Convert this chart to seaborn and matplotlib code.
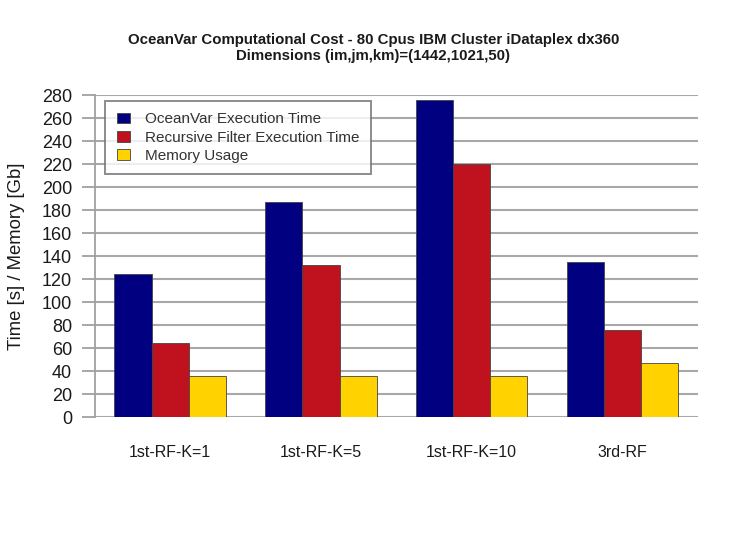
import matplotlib
matplotlib.use("Agg")
import matplotlib.pyplot as plt
import seaborn as sns
import pandas as pd

categories = ["1st-RF-K=1", "1st-RF-K=5", "1st-RF-K=10", "3rd-RF"]
series_names = ["OceanVar Execution Time", "Recursive Filter Execution Time", "Memory Usage"]
oceanvar_time = [124, 187, 276, 135]
rf_time = [64, 132, 220, 76]
memory_usage = [36, 36, 36, 47]
colors = ["#000080", "#C0121E", "#FFD200"]

rows = []
for name, vals in zip(series_names, [oceanvar_time, rf_time, memory_usage]):
    for c, v in zip(categories, vals):
        rows.append({"category": c, "series": name, "value": v})
df = pd.DataFrame(rows)

sns.set_theme(style="white")
plt.rcParams["font.family"] = ["Liberation Sans", "DejaVu Sans"]
plt.rcParams["text.color"] = "#1a1a1a"

fig = plt.figure(figsize=(7.47, 5.34), dpi=100)
ax = fig.add_axes([0.127, 0.219, 0.807, 0.603])

sns.barplot(data=df, x="category", y="value", hue="series", order=categories,
            hue_order=series_names, palette=colors, width=0.74,
            edgecolor="#444444", linewidth=0.6, saturation=1, ax=ax, zorder=3)

ax.set_ylim(0, 280)
ax.set_yticks(range(0, 281, 20))
ax.yaxis.grid(True, color="#A8A8A8", linewidth=1.5, zorder=0)
ax.set_axisbelow(True)
for s in ["top", "right", "bottom"]:
    ax.spines[s].set_visible(False)
ax.spines["left"].set_color("#A0A0A0")
ax.spines["left"].set_linewidth(1.3)
ax.tick_params(axis="y", length=9.5, width=1.3, color="#A0A0A0", labelsize=13,
               pad=7, left=True, labelcolor="#1a1a1a")
ax.tick_params(axis="x", length=0, labelsize=11.5, pad=20, labelcolor="#1a1a1a")
ax.set_xlabel("")
ax.set_ylabel("Time [s] / Memory [Gb]", fontsize=13.3, labelpad=12, color="#1a1a1a")
ax.set_xlim(-0.5, 3.5)

fig.suptitle("OceanVar Computational Cost - 80 Cpus IBM Cluster iDataplex dx360\nDimensions (im,jm,km)=(1442,1021,50)",
             fontsize=10.8, fontweight="bold", y=0.938, linespacing=1.2)

leg = ax.legend(loc="upper left", bbox_to_anchor=(0.017, 0.982), fontsize=11,
                frameon=True, fancybox=False, edgecolor="#707070",
                handlelength=0.85, handleheight=0.7, borderpad=0.75, labelspacing=0.28,
                handletextpad=1.0, borderaxespad=0)
leg.get_frame().set_linewidth(1.4)
for t in leg.get_texts():
    t.set_color("#333333")

fig.savefig("out.png", dpi=100)
